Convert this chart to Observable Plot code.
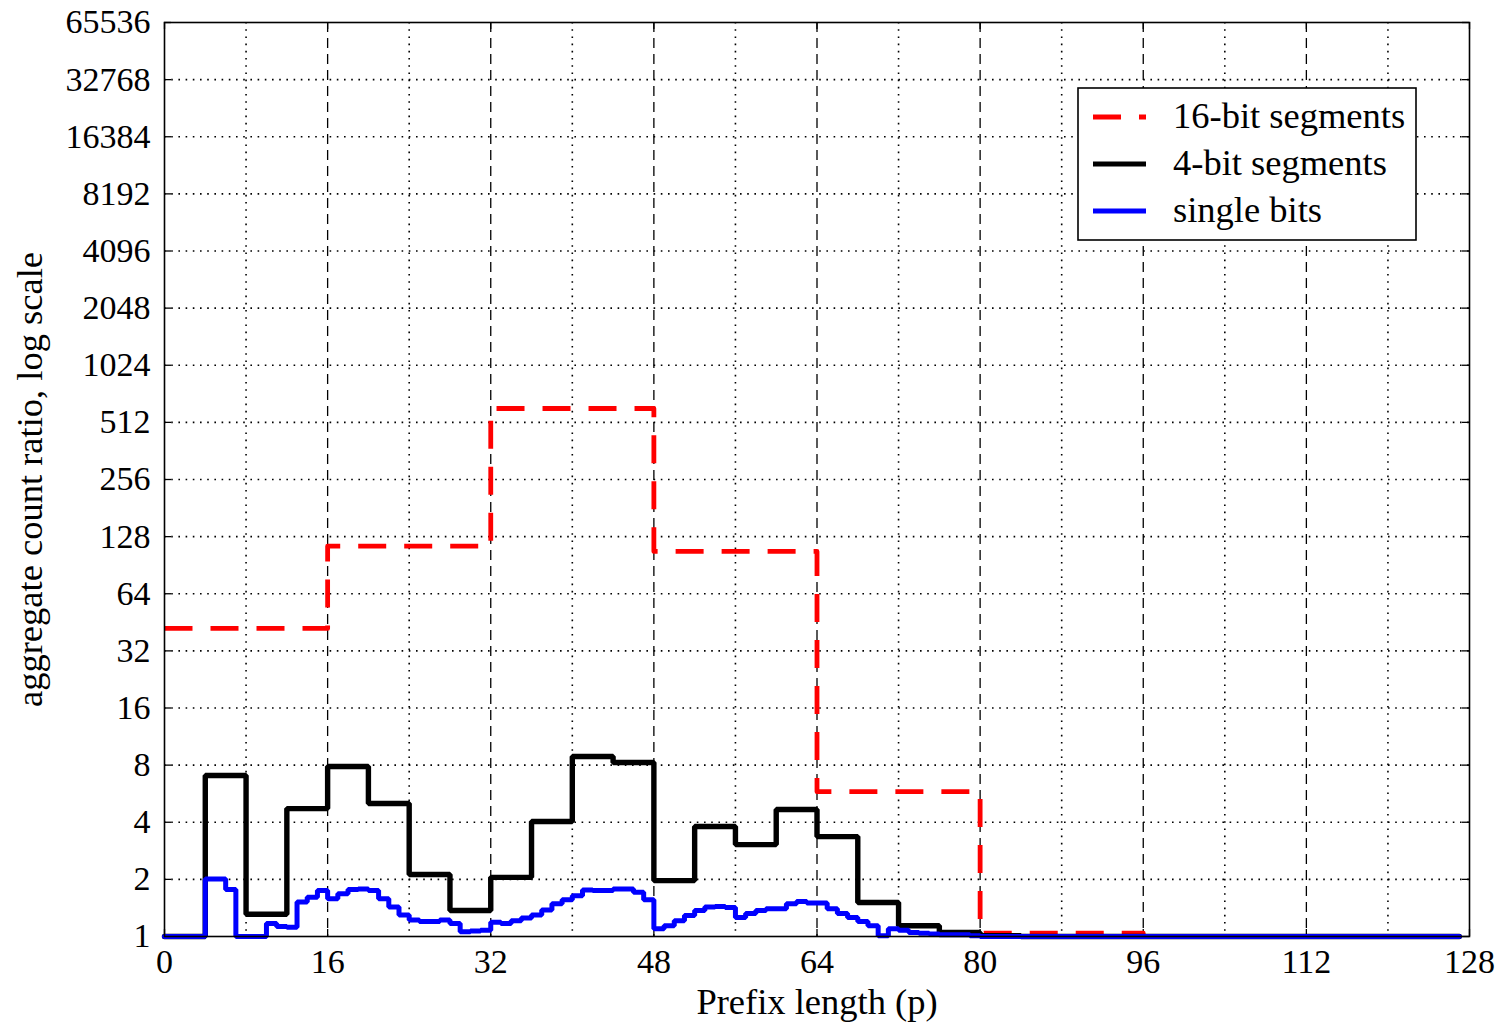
<!DOCTYPE html>
<html>
<head>
<meta charset="utf-8">
<script src="https://cdn.jsdelivr.net/npm/d3@7"></script>
<script src="https://cdn.jsdelivr.net/npm/@observablehq/plot@0.6"></script>
<style>
  html, body { margin: 0; padding: 0; background: #fff; }
  #chart { width: 1505px; height: 1022px; }
</style>
</head>
<body>
<div id="chart"></div>
<script>
// ---- data ----
const seriesNames = ["16-bit segments", "4-bit segments", "single bits"];
const seriesColors = ["#ff0000", "#000000", "#0000ff"];

// aggregate count ratio per 16-bit segment (p = 0-15, 16-31, ...)
const seg16Values = [42, 114, 606, 107, 5.8, 1.04, 1.0, 1.0];

// aggregate count ratio per 4-bit segment (p = 0-3, 4-7, ...)
const seg4Values = [1.0, 7.06, 1.31, 4.72, 7.87, 5.02, 2.12, 1.37,
                    2.05, 4.04, 8.89, 8.26, 1.97, 3.8, 3.05, 4.67,
                    3.36, 1.51, 1.14, 1.05, 1.01, 1.0, 1.0, 1.0,
                    1.0, 1.0, 1.0, 1.0, 1.0, 1.0, 1.0, 1.0];

// aggregate count ratio per single bit (p = 0..127)
const bitValues = [1.0, 1.0, 1.0, 1.0, 2.01, 2.01, 1.77, 1.0,
                   1.0, 1.0, 1.17, 1.13, 1.12, 1.52, 1.61, 1.75,
                   1.58, 1.68, 1.77, 1.78, 1.75, 1.58, 1.43, 1.30,
                   1.22, 1.20, 1.20, 1.22, 1.17, 1.06, 1.07, 1.08,
                   1.19, 1.17, 1.21, 1.25, 1.30, 1.38, 1.49, 1.56,
                   1.64, 1.76, 1.75, 1.75, 1.78, 1.78, 1.71, 1.56,
                   1.10, 1.14, 1.21, 1.29, 1.37, 1.43, 1.44, 1.42,
                   1.26, 1.32, 1.37, 1.40, 1.40, 1.49, 1.53, 1.50,
                   1.50, 1.40, 1.32, 1.26, 1.20, 1.14, 1.01, 1.10,
                   1.08, 1.05, 1.04, 1.03, 1.02, 1.02, 1.02, 1.01,
                   1.0, 1.0, 1.0, 1.0, 1.0, 1.0, 1.0, 1.0,
                   1.0, 1.0, 1.0, 1.0, 1.0, 1.0, 1.0, 1.0,
                   1.0, 1.0, 1.0, 1.0, 1.0, 1.0, 1.0, 1.0,
                   1.0, 1.0, 1.0, 1.0, 1.0, 1.0, 1.0, 1.0,
                   1.0, 1.0, 1.0, 1.0, 1.0, 1.0, 1.0, 1.0,
                   1.0, 1.0, 1.0, 1.0, 1.0, 1.0, 1.0, 1.0];

// ticks / grid
const xTicks = [0, 16, 32, 48, 64, 80, 96, 112, 128];
const xMajorGrid = [16, 32, 48, 64, 80, 96, 112];
const xMinorGrid = [8, 24, 40, 56, 72, 88, 104, 120];
const yTicks = [1, 2, 4, 8, 16, 32, 64, 128, 256, 512, 1024, 2048, 4096, 8192, 16384, 32768, 65536];
const yGrid = [2, 4, 8, 16, 32, 64, 128, 256, 512, 1024, 2048, 4096, 8192, 16384, 32768];

const xLabel = "Prefix length (p)";
const yLabel = "aggregate count ratio, log scale";

// ---- build per-p rows ----
const pCount = bitValues.length;
function expand(values, width, name) {
  return d3.range(pCount).map(p => ({p, v: values[Math.floor(p / width)], series: name}));
}
const rows16 = expand(seg16Values, 16, seriesNames[0]);
const rows4 = expand(seg4Values, 4, seriesNames[1]);
const rows1 = expand(bitValues, 1, seriesNames[2]);

const W = 1505, H = 1022;
const M = {left: 164, right: 36, top: 22, bottom: 86};
const plotW = W - M.left - M.right;
const plotH = H - M.top - M.bottom;
const font = "'Liberation Serif', 'Times New Roman', serif";
const redDash = "28,18";
const dotted = "1.6,5.6";
const dashed = "10,6";
const labelSize = 36.5;

const svg = Plot.plot({
  width: W,
  height: H,
  marginLeft: M.left,
  marginRight: M.right,
  marginTop: M.top,
  marginBottom: M.bottom,
  style: {fontFamily: font, fontSize: "34px", color: "#000", background: "#fff"},
  x: {domain: [0, 128]},
  y: {type: "log", base: 2, domain: [1, 65536]},
  marks: [
    // grid
    Plot.ruleX(xMinorGrid, {x: d => d, stroke: "#000", strokeWidth: 1.6, strokeDasharray: dotted}),
    Plot.ruleX(xMajorGrid, {x: d => d, stroke: "#000", strokeWidth: 1.3, strokeDasharray: dashed}),
    Plot.ruleY(yGrid, {y: d => d, stroke: "#000", strokeWidth: 1.6, strokeDasharray: dotted}),
    // inward ticks
    Plot.ruleY(yTicks, {y: d => d, stroke: "#000", strokeWidth: 1.3, insetRight: plotW - 7}),
    Plot.ruleY(yTicks, {y: d => d, stroke: "#000", strokeWidth: 1.3, insetLeft: plotW - 7}),
    Plot.ruleX(xTicks, {x: d => d, stroke: "#000", strokeWidth: 1.3, insetTop: plotH - 7}),
    Plot.ruleX(xTicks, {x: d => d, stroke: "#000", strokeWidth: 1.3, insetBottom: plotH - 7}),
    // series
    Plot.line(rows16, {x: "p", y: "v", curve: "step-after", stroke: seriesColors[0], strokeWidth: 4.8, strokeDasharray: redDash, strokeLinecap: "butt"}),
    Plot.line(rows4, {x: "p", y: "v", curve: "step-after", stroke: seriesColors[1], strokeWidth: 5.4, strokeLinejoin: "miter"}),
    Plot.line(rows1, {x: "p", y: "v", curve: "step-after", stroke: seriesColors[2], strokeWidth: 5, strokeLinejoin: "miter"}),
    Plot.frame({stroke: "#000", strokeWidth: 1.6}),
    // axes
    Plot.axisX(xTicks, {tickSize: 0, tickPadding: 12, label: null, fontSize: 34}),
    Plot.axisY(yTicks, {tickSize: 0, tickPadding: 14, label: null, fontSize: 34, tickFormat: d => String(d)}),
    Plot.text([xLabel], {frameAnchor: "bottom", dy: 66, text: d => d, fontSize: labelSize, lineAnchor: "middle", textAnchor: "middle"}),
    Plot.text([yLabel], {frameAnchor: "left", dx: -134, rotate: -90, text: d => d, fontSize: labelSize, lineAnchor: "middle", textAnchor: "middle"})
  ]
});

// ---- legend drawn inside the plot area ----
const g = d3.select(svg).append("g")
  .attr("font-family", font).attr("font-size", labelSize)
  .attr("text-anchor", "start");
g.append("rect")
  .attr("x", 1078).attr("y", 88).attr("width", 338).attr("height", 152)
  .attr("fill", "#fff").attr("stroke", "#000").attr("stroke-width", 1.6);
seriesNames.forEach((name, i) => {
  const y = 117 + i * 47;
  g.append("line")
    .attr("x1", 1093).attr("x2", 1146).attr("y1", y).attr("y2", y)
    .attr("stroke", seriesColors[i]).attr("stroke-width", 4.8)
    .attr("stroke-dasharray", i === 0 ? redDash : null);
  g.append("text")
    .attr("x", 1173).attr("y", y + 11)
    .attr("fill", "#000")
    .attr("text-anchor", "start")
    .text(name);
});

document.getElementById("chart").appendChild(svg);
</script>
</body>
</html>
